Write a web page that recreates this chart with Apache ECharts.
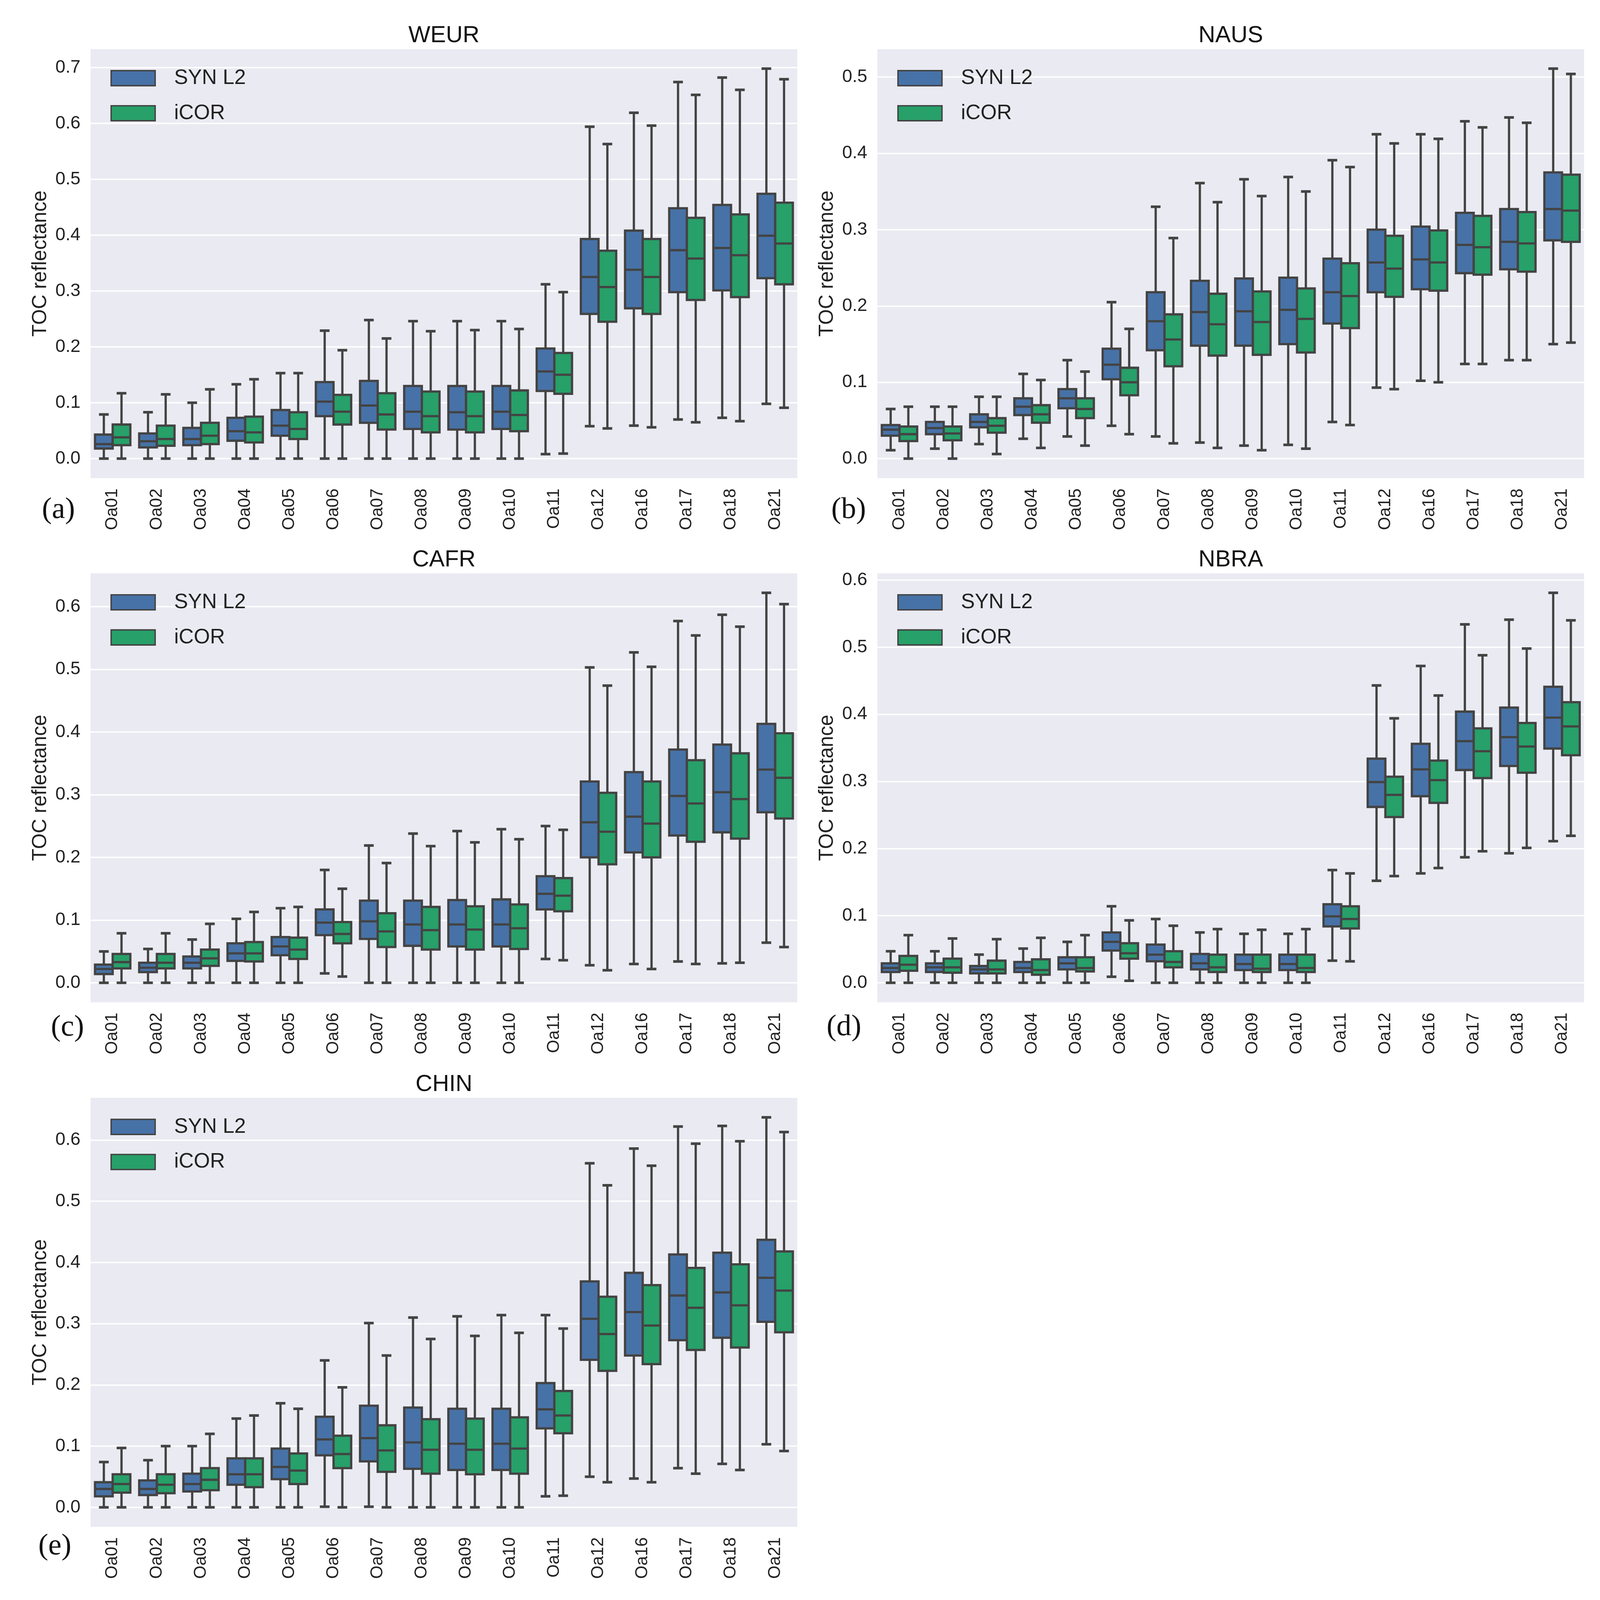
<!DOCTYPE html>
<html>
<head>
<meta charset="utf-8">
<script src="https://cdn.jsdelivr.net/npm/echarts@6/dist/echarts.min.js"></script>
<style>
html,body{margin:0;padding:0;background:#fff;overflow:hidden;}
#chart{width:100vw;height:100vh;}
</style>
</head>
<body>
<div id="chart"></div>
<script>
// ---- data: each row = [lower whisker, Q1, median, Q3, upper whisker] ----
const BANDS = ['Oa01','Oa02','Oa03','Oa04','Oa05','Oa06','Oa07','Oa08','Oa09','Oa10','Oa11','Oa12','Oa16','Oa17','Oa18','Oa21'];
const Y_TICKS_A = [0,0.1,0.2,0.3,0.4,0.5,0.6,0.7];
const Y_TICKS_B = [0,0.1,0.2,0.3,0.4,0.5];
const Y_TICKS_C = [0,0.1,0.2,0.3,0.4,0.5,0.6];
const Y_TICKS_D = [0,0.1,0.2,0.3,0.4,0.5,0.6];
const Y_TICKS_E = [0,0.1,0.2,0.3,0.4,0.5,0.6];

const WEUR_SYN = [
 [0,0.018,0.026,0.043,0.079],[0,0.020,0.031,0.045,0.083],[0,0.024,0.035,0.055,0.100],[0,0.032,0.049,0.073,0.133],
 [0,0.041,0.059,0.087,0.153],[0,0.076,0.102,0.137,0.229],[0,0.064,0.095,0.139,0.248],[0,0.053,0.084,0.130,0.246],
 [0,0.052,0.083,0.130,0.246],[0,0.053,0.084,0.130,0.246],[0.008,0.121,0.156,0.197,0.312],[0.058,0.259,0.325,0.393,0.594],
 [0.059,0.269,0.338,0.408,0.619],[0.070,0.298,0.373,0.448,0.674],[0.073,0.301,0.377,0.454,0.682],[0.098,0.323,0.399,0.474,0.698]];
const WEUR_ICOR = [
 [0,0.024,0.038,0.061,0.117],[0,0.023,0.035,0.059,0.115],[0,0.026,0.041,0.064,0.124],[0,0.029,0.047,0.075,0.142],
 [0,0.035,0.053,0.083,0.153],[0,0.061,0.084,0.114,0.194],[0,0.052,0.079,0.117,0.215],[0,0.047,0.076,0.120,0.228],
 [0,0.047,0.076,0.120,0.230],[0,0.049,0.078,0.122,0.232],[0.009,0.116,0.150,0.189,0.298],[0.054,0.245,0.307,0.372,0.563],
 [0.056,0.259,0.325,0.393,0.596],[0.065,0.284,0.358,0.431,0.651],[0.067,0.289,0.364,0.437,0.660],[0.091,0.312,0.385,0.458,0.679]];
const NAUS_SYN = [
 [0.011,0.030,0.038,0.044,0.065],[0.013,0.032,0.040,0.048,0.068],[0.019,0.041,0.048,0.058,0.081],[0.026,0.057,0.068,0.079,0.111],
 [0.029,0.066,0.079,0.091,0.129],[0.043,0.104,0.123,0.144,0.205],[0.029,0.142,0.180,0.218,0.330],[0.021,0.148,0.192,0.233,0.361],
 [0.017,0.148,0.193,0.236,0.366],[0.018,0.150,0.195,0.237,0.369],[0.048,0.177,0.218,0.262,0.391],[0.093,0.218,0.257,0.300,0.425],
 [0.102,0.222,0.261,0.304,0.425],[0.124,0.243,0.280,0.322,0.442],[0.129,0.248,0.284,0.327,0.447],[0.150,0.286,0.327,0.375,0.511]];
const NAUS_ICOR = [
 [0,0.023,0.032,0.042,0.068],[0,0.024,0.033,0.042,0.068],[0.006,0.034,0.043,0.053,0.081],[0.014,0.047,0.058,0.070,0.103],
 [0.017,0.053,0.065,0.079,0.114],[0.032,0.083,0.100,0.119,0.170],[0.020,0.121,0.156,0.189,0.289],[0.014,0.135,0.176,0.216,0.336],
 [0.011,0.136,0.179,0.219,0.344],[0.013,0.139,0.183,0.223,0.350],[0.044,0.171,0.213,0.256,0.382],[0.091,0.212,0.249,0.292,0.413],
 [0.100,0.220,0.257,0.299,0.419],[0.124,0.241,0.277,0.318,0.434],[0.129,0.245,0.282,0.323,0.440],[0.152,0.284,0.325,0.372,0.504]];
const CAFR_SYN = [
 [0,0.014,0.022,0.029,0.050],[0,0.017,0.024,0.032,0.054],[0,0.023,0.032,0.042,0.069],[0,0.035,0.047,0.063,0.102],
 [0,0.044,0.058,0.073,0.119],[0.015,0.076,0.096,0.117,0.180],[0,0.070,0.098,0.131,0.219],[0,0.059,0.093,0.131,0.238],
 [0,0.058,0.093,0.132,0.242],[0,0.058,0.093,0.133,0.245],[0.038,0.117,0.142,0.170,0.250],[0.028,0.200,0.256,0.321,0.503],
 [0.030,0.208,0.265,0.336,0.527],[0.034,0.235,0.298,0.372,0.577],[0.031,0.240,0.304,0.380,0.587],[0.064,0.272,0.340,0.413,0.622]];
const CAFR_ICOR = [
 [0,0.023,0.033,0.046,0.079],[0,0.023,0.032,0.046,0.079],[0,0.027,0.039,0.053,0.094],[0,0.034,0.047,0.065,0.113],
 [0,0.038,0.053,0.072,0.121],[0.010,0.063,0.078,0.097,0.150],[0,0.057,0.082,0.111,0.191],[0,0.053,0.084,0.121,0.218],
 [0,0.053,0.085,0.122,0.224],[0,0.054,0.087,0.125,0.229],[0.036,0.114,0.139,0.167,0.244],[0.020,0.189,0.241,0.303,0.474],
 [0.022,0.200,0.254,0.321,0.504],[0.030,0.225,0.286,0.355,0.554],[0.032,0.230,0.293,0.366,0.568],[0.057,0.262,0.327,0.398,0.604]];
const NBRA_SYN = [
 [0,0.016,0.022,0.029,0.047],[0,0.016,0.023,0.029,0.047],[0,0.014,0.020,0.025,0.042],[0,0.016,0.022,0.031,0.051],
 [0,0.020,0.029,0.038,0.061],[0.009,0.048,0.061,0.075,0.114],[0,0.032,0.042,0.057,0.095],[0,0.020,0.029,0.043,0.075],
 [0,0.019,0.028,0.042,0.073],[0,0.019,0.028,0.042,0.073],[0.033,0.084,0.099,0.117,0.168],[0.152,0.262,0.299,0.334,0.443],
 [0.163,0.278,0.318,0.356,0.472],[0.187,0.317,0.360,0.404,0.534],[0.193,0.323,0.366,0.410,0.541],[0.211,0.349,0.395,0.441,0.581]];
const NBRA_ICOR = [
 [0,0.018,0.027,0.040,0.071],[0,0.015,0.023,0.036,0.066],[0,0.014,0.020,0.033,0.065],[0,0.012,0.019,0.035,0.067],
 [0,0.017,0.022,0.038,0.071],[0.003,0.036,0.044,0.059,0.093],[0,0.023,0.031,0.047,0.085],[0,0.016,0.023,0.042,0.080],
 [0,0.016,0.021,0.042,0.079],[0,0.016,0.022,0.042,0.080],[0.032,0.081,0.095,0.114,0.163],[0.159,0.247,0.280,0.307,0.394],
 [0.171,0.268,0.302,0.331,0.428],[0.196,0.305,0.345,0.379,0.488],[0.201,0.313,0.352,0.387,0.498],[0.219,0.339,0.382,0.418,0.540]];
const CHIN_SYN = [
 [0,0.018,0.030,0.041,0.074],[0,0.020,0.030,0.044,0.077],[0,0.026,0.038,0.055,0.100],[0,0.037,0.054,0.080,0.145],
 [0,0.046,0.066,0.096,0.170],[0.001,0.085,0.111,0.148,0.240],[0.001,0.075,0.113,0.166,0.301],[0,0.063,0.106,0.163,0.310],
 [0,0.061,0.104,0.161,0.312],[0,0.061,0.104,0.161,0.314],[0.018,0.129,0.160,0.203,0.314],[0.050,0.241,0.308,0.369,0.562],
 [0.047,0.248,0.319,0.383,0.586],[0.064,0.273,0.346,0.413,0.622],[0.071,0.277,0.351,0.416,0.623],[0.103,0.303,0.375,0.437,0.637]];
const CHIN_ICOR = [
 [0,0.024,0.038,0.054,0.097],[0,0.023,0.037,0.054,0.100],[0,0.028,0.045,0.064,0.120],[0,0.033,0.054,0.080,0.150],
 [0,0.038,0.060,0.088,0.161],[0,0.064,0.087,0.117,0.196],[0,0.058,0.093,0.134,0.248],[0,0.055,0.094,0.144,0.275],
 [0,0.054,0.094,0.145,0.280],[0,0.055,0.096,0.147,0.285],[0.019,0.121,0.150,0.190,0.292],[0.041,0.223,0.283,0.344,0.526],
 [0.041,0.234,0.297,0.363,0.558],[0.055,0.257,0.326,0.391,0.594],[0.061,0.261,0.330,0.397,0.598],[0.092,0.286,0.354,0.418,0.613]];

const PANELS = [
  {title:'WEUR', tag:'(a)', syn:WEUR_SYN, icor:WEUR_ICOR, ticks:Y_TICKS_A},
  {title:'NAUS', tag:'(b)', syn:NAUS_SYN, icor:NAUS_ICOR, ticks:Y_TICKS_B},
  {title:'CAFR', tag:'(c)', syn:CAFR_SYN, icor:CAFR_ICOR, ticks:Y_TICKS_C},
  {title:'NBRA', tag:'(d)', syn:NBRA_SYN, icor:NBRA_ICOR, ticks:Y_TICKS_D},
  {title:'CHIN', tag:'(e)', syn:CHIN_SYN, icor:CHIN_ICOR, ticks:Y_TICKS_E}
];

// ---- layout (designed in 4433 x 4789 reference pixels, scaled to the actual viewport) ----
const REF_W = 4433, REF_H = 4789;
const VW = window.innerWidth || REF_W, VH = window.innerHeight || REF_H;
const SX = VW / REF_W, SY = VH / REF_H, SF = Math.sqrt(SX * SY);
const X = v => v * SX, Y = v => v * SY, F = v => v * SF;

const FONT = 'Liberation Sans';
const TXT = '#222222';
const EDGE = '#434343';
const C_SYN = '#4772a7';
const C_ICOR = '#27a069';
const GRIDS = [
  {left:251, top:147}, {left:2431, top:147},
  {left:251, top:1716}, {left:2431, top:1716},
  {left:251, top:3286}
];
const GW = 1958, GH = 1284;
const TAGS = [
  {x:116, y:1528}, {x:2303, y:1528}, {x:141, y:3077}, {x:2290, y:3075}, {x:106, y:4629}
];

function makeRender(offset, color) {
  return function (params, api) {
    const i = api.value(0);
    const band = api.size([1, 0])[0];
    const cx = api.coord([i, 0])[0] + offset * band;
    const w = 0.4 * band;
    const cap = 0.22 * band;
    const yLo = api.coord([i, api.value(1)])[1];
    const yQ1 = api.coord([i, api.value(2)])[1];
    const yMd = api.coord([i, api.value(3)])[1];
    const yQ3 = api.coord([i, api.value(4)])[1];
    const yHi = api.coord([i, api.value(5)])[1];
    const lw = F(6.5);
    const ls = {stroke: EDGE, lineWidth: lw};
    const cs = {stroke: EDGE, lineWidth: F(7.5)};
    return {
      type: 'group',
      children: [
        {type:'line', shape:{x1:cx, y1:yQ1, x2:cx, y2:yLo}, style:ls},
        {type:'line', shape:{x1:cx, y1:yQ3, x2:cx, y2:yHi}, style:ls},
        {type:'line', shape:{x1:cx-cap/2, y1:yLo, x2:cx+cap/2, y2:yLo}, style:cs},
        {type:'line', shape:{x1:cx-cap/2, y1:yHi, x2:cx+cap/2, y2:yHi}, style:cs},
        {type:'rect', shape:{x:cx-w/2, y:yQ3, width:w, height:yQ1-yQ3}, style:{fill:color, stroke:EDGE, lineWidth:lw}},
        {type:'line', shape:{x1:cx-w/2, y1:yMd, x2:cx+w/2, y2:yMd}, style:ls}
      ]
    };
  };
}

const option = {
  backgroundColor: '#ffffff',
  animation: false,
  title: [], grid: [], xAxis: [], yAxis: [], legend: [], series: [], graphic: []
};

PANELS.forEach(function (p, k) {
  const g = GRIDS[k];
  const all = p.syn.concat(p.icor).reduce(function (a, r) { return a.concat(r); }, []);
  const lo = Math.min.apply(null, all), hi = Math.max.apply(null, all);
  const pad = (hi - lo) * 0.05;
  option.grid.push({left:X(g.left), top:Y(g.top), width:X(GW), height:Y(GH), show:true, backgroundColor:'#eaeaf2', borderWidth:0});
  option.title.push({
    text: p.title, left: X(g.left + GW / 2), top: Y(g.top - 75), textAlign: 'center', padding: 0,
    textStyle: {fontFamily: FONT, fontSize: F(67), fontWeight: 'normal', color: '#111'}
  });
  option.xAxis.push({
    type:'category', gridIndex:k, data:BANDS, boundaryGap:true,
    axisLine:{show:false}, axisTick:{show:false}, splitLine:{show:false},
    axisLabel:{rotate:90, interval:0, margin:Y(31), fontFamily:FONT, fontSize:F(49), color:TXT}
  });
  option.yAxis.push({
    type:'value', gridIndex:k, min: lo - pad, max: hi + pad,
    name:'TOC reflectance', nameLocation:'middle', nameGap:X(111),
    nameTextStyle:{fontFamily:FONT, fontSize:F(58), color:TXT},
    axisLine:{show:false},
    axisTick:{show:false, customValues:p.ticks},
    axisLabel:{customValues:p.ticks, margin:X(28), fontFamily:FONT, fontSize:F(52), color:TXT,
      formatter:function (v) { return (Math.round(v * 10) / 10).toFixed(1); }},
    splitLine:{show:true, lineStyle:{color:'#ffffff', width:F(4)}}
  });
  option.legend.push({
    data:['SYN L2','iCOR'], orient:'vertical', left:X(g.left + 55), top:Y(g.top + 56), padding:0,
    icon:'rect', itemWidth:X(122), itemHeight:Y(45), itemGap:Y(43),
    itemStyle:{borderColor:EDGE, borderWidth:F(4)},
    textStyle:{fontFamily:FONT, fontSize:F(60), color:TXT, padding:[0,0,0,X(47)]},
    selectedMode:false
  });
  option.series.push({
    name:'SYN L2', type:'custom', xAxisIndex:k, yAxisIndex:k,
    itemStyle:{color:C_SYN},
    encode:{x:0, y:[1,2,3,4,5]},
    renderItem: makeRender(-0.2, C_SYN),
    data: p.syn.map(function (r, i) { return [i].concat(r); })
  });
  option.series.push({
    name:'iCOR', type:'custom', xAxisIndex:k, yAxisIndex:k,
    itemStyle:{color:C_ICOR},
    encode:{x:0, y:[1,2,3,4,5]},
    renderItem: makeRender(0.2, C_ICOR),
    data: p.icor.map(function (r, i) { return [i].concat(r); })
  });
  option.graphic.push({
    type:'text', left:X(TAGS[k].x), top:Y(TAGS[k].y - 45),
    style:{text:p.tag, font: F(86) + 'px "Liberation Serif"', fill:'#111'}
  });
});

const chart = echarts.init(document.getElementById('chart'), null, {renderer:'canvas'});
chart.setOption(option);
</script>
</body>
</html>
